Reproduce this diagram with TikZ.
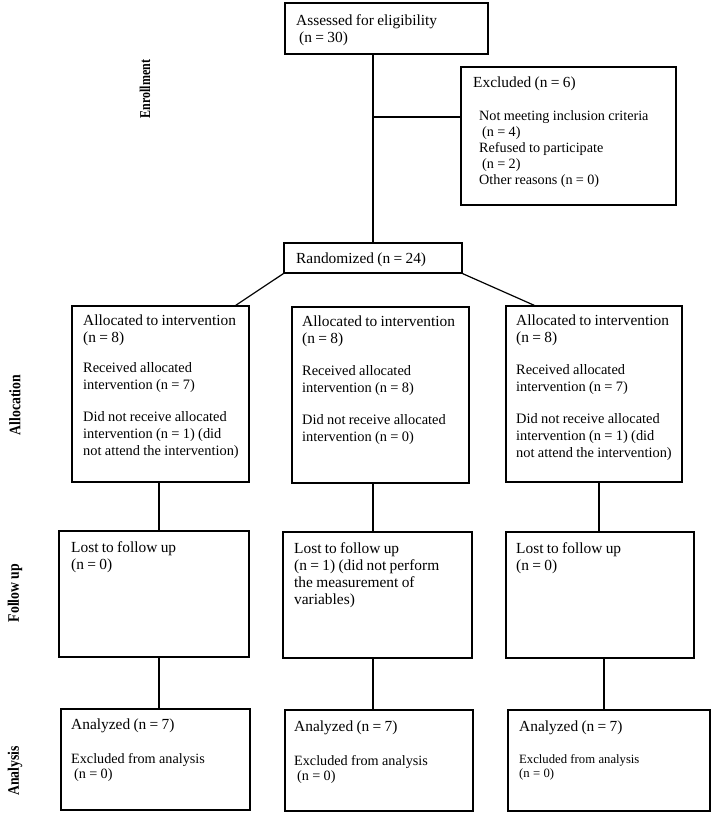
\documentclass[tikz,border=0pt]{standalone}
\usepackage{fontspec}
\setmainfont{Liberation Serif}
\usetikzlibrary{calc}
\newcommand{\mybig}{\fontsize{15.4}{17}\selectfont}
\newcommand{\mysmall}{\fontsize{14.4}{17}\selectfont}
\tikzset{
  box/.style={draw=black, line width=1.2pt, inner sep=0pt},
  txt/.style={anchor=north west, inner sep=0pt, align=left, text width=190pt},
  link/.style={draw=black, line width=1.2pt},
  lbl/.style={rotate=90, inner sep=0pt, font=\fontsize{15}{17}\selectfont\bfseries},
  lblbig/.style={rotate=90, inner sep=0pt, font=\fontsize{16}{18}\selectfont\bfseries},
}
\begin{document}
\begin{tikzpicture}[x=1pt,y=-1pt]
\fill[white] (0,0) rectangle (714,815);
\useasboundingbox (0,0) rectangle (714,815);

% boxes
\node[box, minimum width=203pt, minimum height=51pt] (assess) at (386.5,28.5) {};
\node[box, minimum width=215pt, minimum height=138pt] (excl) at (568.5,136) {};
\node[box, minimum width=178pt, minimum height=30pt] (rand) at (373,258) {};
\node[box, minimum width=177pt, minimum height=176pt] (a1) at (160.5,394) {};
\node[box, minimum width=177pt, minimum height=176pt] (a2) at (380.5,395) {};
\node[box, minimum width=176pt, minimum height=176pt] (a3) at (594,394) {};
\node[box, minimum width=190pt, minimum height=126pt] (f1) at (154,594) {};
\node[box, minimum width=189pt, minimum height=126pt] (f2) at (377.5,595) {};
\node[box, minimum width=188pt, minimum height=126pt] (f3) at (600,595) {};
\node[box, minimum width=189pt, minimum height=101pt] (n1) at (155.5,759.5) {};
\node[box, minimum width=188pt, minimum height=101pt] (n2) at (379,760.5) {};
\node[box, minimum width=202pt, minimum height=101pt] (n3) at (609,760.5) {};

% texts
\node[txt] (tassess) at (296,14.5) {\mybig Assessed for eligibility\\\hspace*{3pt}(n = 30)\par};
\node[txt] (texcl) at (473,76.5) {\mybig Excluded (n = 6)\par};
\node[txt] (texcllist) at (479,110) {\fontsize{14.2}{16}\selectfont Not meeting inclusion criteria\\\hspace*{3pt}(n = 4)\\Refused to participate\\\hspace*{3pt}(n = 2)\\Other reasons (n = 0)\par};
\node[txt] (trand) at (296,252.5) {\mybig Randomized (n = 24)\par};

\node[txt] (ta1) at (83,314.5) {\mybig Allocated to intervention\\(n = 8)\par\vspace{13pt}\mysmall Received allocated\\intervention (n = 7)\par\vspace{15pt}Did not receive allocated\\intervention (n = 1) (did\\not attend the intervention)\par};
\node[txt] (ta2) at (302,315.5) {\mybig Allocated to intervention\\(n = 8)\par\vspace{15pt}\mysmall Received allocated\\intervention (n = 8)\par\vspace{15pt}Did not receive allocated\\intervention (n = 0)\par};
\node[txt] (ta3) at (516,314.5) {\mybig Allocated to intervention\\(n = 8)\par\vspace{15pt}\mysmall Received allocated\\intervention (n = 7)\par\vspace{15pt}Did not receive allocated\\intervention (n = 1) (did\\not attend the intervention)\par};

\node[txt] (tf1) at (71,541.5) {\mybig Lost to follow up\\(n = 0)\par};
\node[txt] (tf2) at (294,542.5) {\mybig Lost to follow up\\(n = 1) (did not perform\\the measurement of\\variables)\par};
\node[txt] (tf3) at (516,542.5) {\mybig Lost to follow up\\(n = 0)\par};

\node[txt] (tn1) at (71,718.5) {\mybig Analyzed (n = 7)\par\vspace{19pt}\fontsize{14.2}{15}\selectfont Excluded from analysis\\\hspace*{3pt}(n = 0)\par};
\node[txt] (tn2) at (294,720.5) {\mybig Analyzed (n = 7)\par\vspace{19pt}\fontsize{14.2}{15}\selectfont Excluded from analysis\\\hspace*{3pt}(n = 0)\par};
\node[txt] (tn3) at (519,720.5) {\mybig Analyzed (n = 7)\par\vspace{18pt}\fontsize{12.7}{14}\selectfont Excluded from analysis\\(n = 0)\par};

% stage labels
\node[lbl] (lenroll) at (145,89) {\scalebox{0.8}[1]{Enrollment}};
\node[lblbig] (lalloc) at (15,405) {\scalebox{0.86}[1]{Allocation}};
\node[lblbig] (lfollow) at (15,593) {\scalebox{0.86}[1]{Follow up}};
\node[lblbig] (lanal) at (15,771) {\scalebox{0.86}[1]{Analysis}};

% connectors
\coordinate (branch) at (373,117);
\draw[link] (assess.south -| rand.north) -- (rand.north);
\draw[link] (branch) -- (branch -| excl.west);
\draw[link] (rand.south west) -- ($(a1.north east)+(-14,0)$);
\draw[link] (rand.south east) -- ($(a3.north west)+(29,0)$);
\draw[link] ([xshift=-1.5pt]a1.south) -- ([xshift=-1.5pt]a1.south |- f1.north);
\draw[link] (rand.south |- a2.south) -- (rand.south |- f2.north);
\draw[link] ([xshift=5pt]a3.south) -- ([xshift=5pt]a3.south |- f3.north);
\draw[link] ([xshift=-1.5pt]a1.south |- f1.south) -- ([xshift=-1.5pt]a1.south |- n1.north);
\draw[link] (rand.south |- f2.south) -- (rand.south |- n2.north);
\draw[link] ([xshift=4pt]f3.south) -- ([xshift=4pt]f3.south |- n3.north);
\end{tikzpicture}
\end{document}
